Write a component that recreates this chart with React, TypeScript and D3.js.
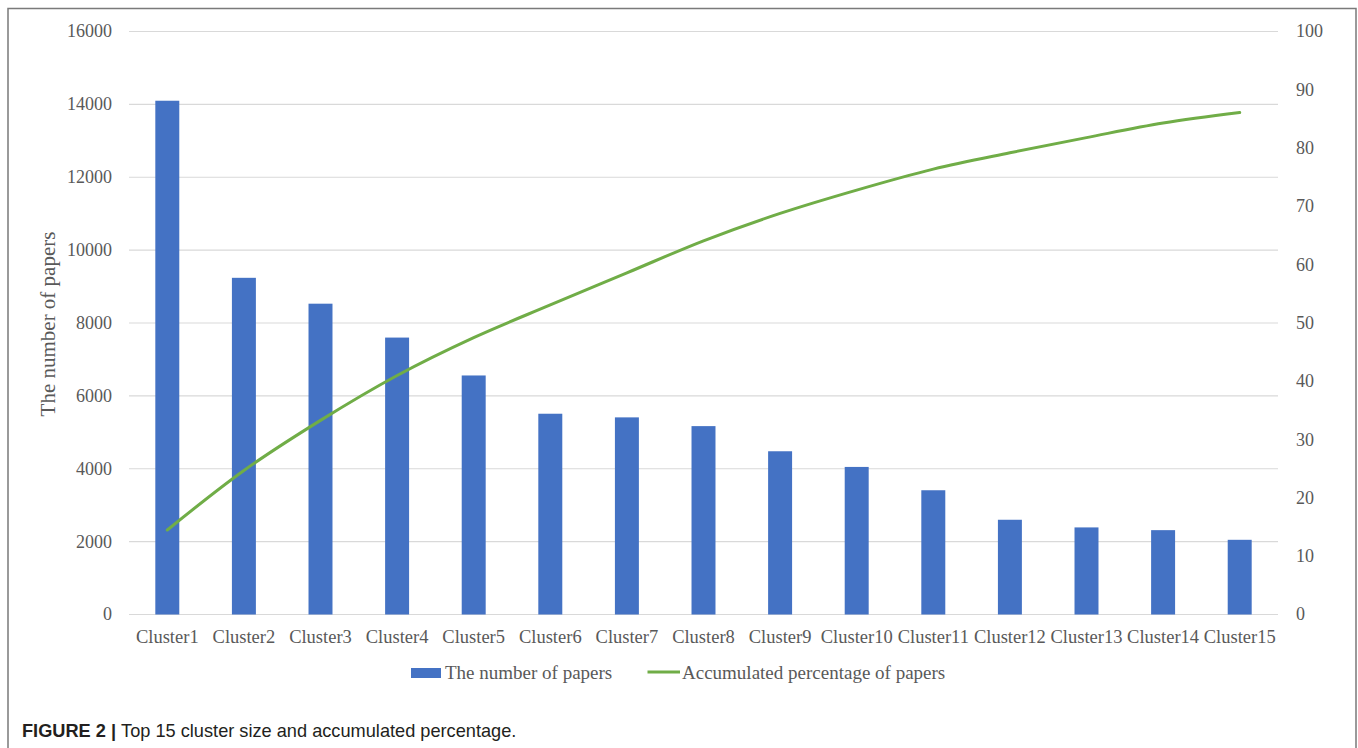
import React, { useEffect, useRef } from "react";
import * as d3 from "d3";

const categories = [
  "Cluster1", "Cluster2", "Cluster3", "Cluster4", "Cluster5",
  "Cluster6", "Cluster7", "Cluster8", "Cluster9", "Cluster10",
  "Cluster11", "Cluster12", "Cluster13", "Cluster14", "Cluster15",
];
const papers = [14100, 9240, 8530, 7600, 6560, 5510, 5410, 5170, 4480, 4050, 3410, 2600, 2390, 2315, 2050];
const accumulated = [14.5, 24.7, 33.3, 41.0, 47.5, 53.1, 58.6, 64.1, 68.8, 72.8, 76.4, 79.2, 81.8, 84.3, 86.1];
const leftTicks = [0, 2000, 4000, 6000, 8000, 10000, 12000, 14000, 16000];
const rightTicks = [0, 10, 20, 30, 40, 50, 60, 70, 80, 90, 100];

const W = 1358;
const H = 748;
const M = { left: 129, right: 1278, top: 31.5, bottom: 614.5 };
const BAR = "#4472C4";
const LINE = "#70AD47";
const TXT = "#595959";
const SERIF = "'Liberation Serif', 'Times New Roman', serif";
const SANS = "'Liberation Sans', Arial, sans-serif";

export default function App() {
  const ref = useRef<SVGSVGElement>(null);

  useEffect(() => {
    const svg = d3.select(ref.current);
    svg.selectAll("*").remove();

    svg.append("rect").attr("width", W).attr("height", H).attr("fill", "#fff");
    // frame
    svg.append("path")
      .attr("d", `M8,${H + 5} L8,8.5 L1356,8.5 L1356,${H + 5}`)
      .attr("fill", "none").attr("stroke", "#7a7a7a").attr("stroke-width", 1.5);

    const x = d3.scaleBand<string>().domain(categories).range([M.left, M.right]).paddingInner(0.687).paddingOuter(0.3435);
    const yL = d3.scaleLinear().domain([0, 16000]).range([M.bottom, M.top]);
    const yR = d3.scaleLinear().domain([0, 100]).range([M.bottom, M.top]);

    // gridlines
    svg.append("g").selectAll("line").data(leftTicks).join("line")
      .attr("x1", M.left).attr("x2", M.right)
      .attr("y1", (d) => yL(d)).attr("y2", (d) => yL(d))
      .attr("stroke", "#d9d9d9").attr("stroke-width", 1.2);

    // bars
    svg.append("g").selectAll("rect").data(papers).join("rect")
      .attr("x", (_d, i) => x(categories[i])!)
      .attr("width", x.bandwidth())
      .attr("y", (d) => yL(d))
      .attr("height", (d) => yL(0) - yL(d))
      .attr("fill", BAR);

    // line
    const cx = (i: number) => x(categories[i])! + x.bandwidth() / 2;
    const line = d3.line<number>().x((_d, i) => cx(i)).y((d) => yR(d)).curve(d3.curveMonotoneX);
    svg.append("path").datum(accumulated).attr("d", line)
      .attr("fill", "none").attr("stroke", LINE).attr("stroke-width", 3).attr("stroke-linecap", "round");

    // left ticks
    svg.append("g").selectAll("text").data(leftTicks).join("text")
      .attr("x", 112).attr("y", (d) => yL(d)).attr("dy", "0.33em")
      .attr("text-anchor", "end").attr("font-family", SERIF).attr("font-size", 18).attr("fill", TXT)
      .text((d) => String(d));

    // right ticks
    svg.append("g").selectAll("text").data(rightTicks).join("text")
      .attr("x", 1296).attr("y", (d) => yR(d)).attr("dy", "0.33em")
      .attr("text-anchor", "start").attr("font-family", SERIF).attr("font-size", 18).attr("fill", TXT)
      .text((d) => String(d));

    // x labels
    svg.append("g").selectAll("text").data(categories).join("text")
      .attr("x", (_d, i) => cx(i)).attr("y", 643)
      .attr("text-anchor", "middle").attr("font-family", SERIF).attr("font-size", 18.5).attr("fill", TXT)
      .text((d) => d);

    // y title
    svg.append("text")
      .attr("transform", `translate(55,324) rotate(-90)`)
      .attr("text-anchor", "middle").attr("font-family", SERIF).attr("font-size", 21).attr("fill", TXT)
      .text("The number of papers");

    // legend
    svg.append("rect").attr("x", 411).attr("y", 668).attr("width", 30).attr("height", 10).attr("fill", BAR);
    svg.append("text").attr("x", 445).attr("y", 679).attr("font-family", SERIF).attr("font-size", 19).attr("fill", TXT)
      .text("The number of papers");
    svg.append("line").attr("x1", 647.5).attr("x2", 680).attr("y1", 672).attr("y2", 672)
      .attr("stroke", LINE).attr("stroke-width", 3);
    svg.append("text").attr("x", 682).attr("y", 679).attr("font-family", SERIF).attr("font-size", 19).attr("fill", TXT)
      .text("Accumulated percentage of papers");

    // caption
    const cap = svg.append("text").attr("x", 22).attr("y", 737).attr("font-family", SANS).attr("font-size", 18.2).attr("fill", "#231f20");
    cap.append("tspan").attr("font-weight", "bold").text("FIGURE 2 | ");
    cap.append("tspan").text("Top 15 cluster size and accumulated percentage.");
  }, []);

  return (
    <svg ref={ref} width={W} height={H} style={{ position: "absolute", left: 0, top: 0, display: "block" }} />
  );
}
